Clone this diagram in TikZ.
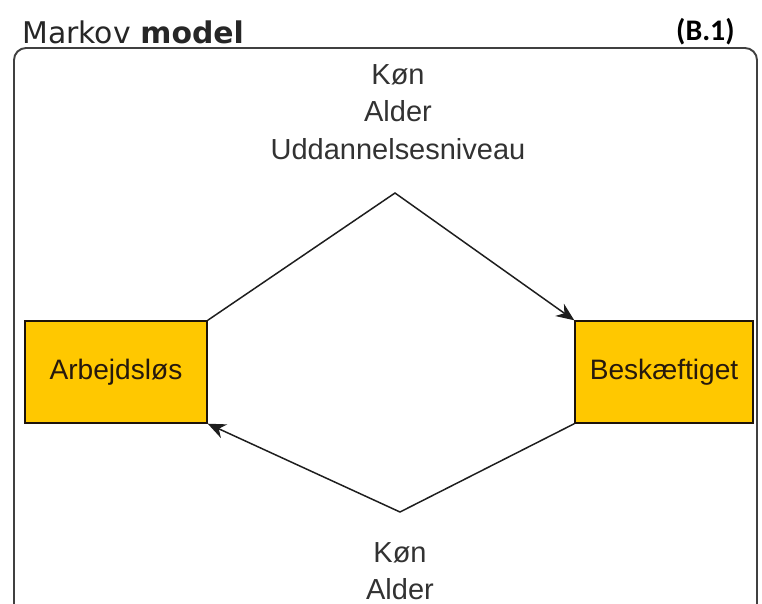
\documentclass[tikz,border=0pt]{standalone}
\usepackage{fontspec}
\setmainfont{Liberation Sans}
\newfontfamily\titlefont{DejaVu Sans}
\newfontfamily\tagfont{Carlito}
\usepackage{tikz}
\usetikzlibrary{arrows.meta, positioning, calc}
\definecolor{boxfill}{RGB}{255,200,0}
\definecolor{linegray}{RGB}{30,30,30}
\definecolor{textgray}{RGB}{50,50,50}

\tikzset{
  statebox/.style={rectangle, draw=black!85!brown, fill=boxfill, line width=0.8pt,
    minimum width=182*0.02cm, minimum height=102*0.02cm, inner sep=0pt,
    font=\fontsize{16}{19}\selectfont, text=black!80!brown},
  covar/.style={align=center, text=textgray, font=\fontsize{16.5}{21.3}\selectfont},
  trans/.style={linegray, line width=0.85pt, ->, >={Stealth[length=3.6mm,width=3mm]}}
}

\begin{document}
\begin{tikzpicture}[x=0.02cm, y=-0.02cm]
      \useasboundingbox (0,0) rectangle (762,603);

      % title and tag
      \node[anchor=base west, inner sep=0pt, text=black!85] (title) at (22,43)
        {\titlefont\fontsize{17}{20}\selectfont Markov \textbf{model}};
      \node[anchor=base east, inner sep=0pt] (tag) at (735,40)
        {\tagfont\fontsize{17}{20}\selectfont\bfseries (B.1)};

      % frame, open at the bottom
      \draw[black!75, line width=1.1pt, rounded corners=12*0.02cm]
        (14,606) -- (14,48) -- (757,48) -- (757,606);

      % states
      \node[statebox] (arb) at (116,372) {Arbejdsløs};
      \node[statebox, minimum width=178*0.02cm] (besk) at (664,372) {Beskæftiget};

      % bend points of the transitions
      \coordinate (topv) at (395,193);
      \coordinate (botv) at (400,512);

      \draw[trans] (arb.north east) -- (topv) -- (besk.north west);
      \draw[trans] (besk.south west) -- (botv) -- (arb.south east);

      % covariates
      \node[covar] (uplab) at (398,112) {Køn\\Alder\\Uddannelsesniveau};
      \node[covar, anchor=north] (lowlab) at (400,536) {Køn\\Alder};

    \end{tikzpicture}
\end{document}
